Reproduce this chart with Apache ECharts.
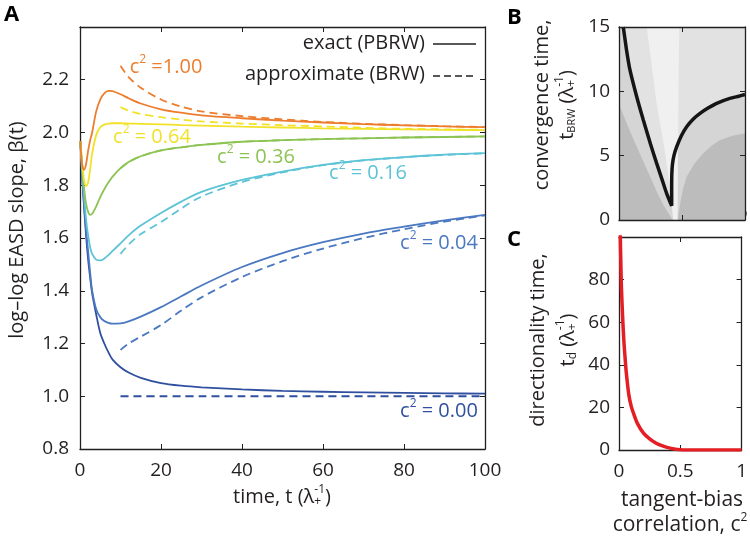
<!DOCTYPE html>
<html><head><meta charset="utf-8">
<script src="https://cdn.jsdelivr.net/npm/echarts@6/dist/echarts.min.js"></script>
<style>html,body{margin:0;padding:0;background:#fff}#c{width:750px;height:540px}</style>
</head><body><div id="c"></div>
<script>
// ---------- Panel A data ----------
const T_EXACT = [0.1,0.5,1,1.5,2,2.5,3,4,5,6,7,8,10,12,15,20,25,30,40,50,60,70,80,90,100];
const EXACT_100 = [1.967,1.88,1.858,1.88,1.93,1.97,2.00,2.08,2.125,2.148,2.158,2.157,2.145,2.13,2.11,2.088,2.075,2.065,2.054,2.045,2.038,2.032,2.027,2.023,2.02];
const EXACT_064 = [1.967,1.89,1.82,1.797,1.81,1.86,1.92,1.99,2.02,2.03,2.034,2.035,2.035,2.034,2.033,2.031,2.028,2.026,2.022,2.019,2.016,2.014,2.012,2.010,2.009];
const EXACT_036 = [1.967,1.88,1.79,1.73,1.70,1.688,1.692,1.72,1.755,1.785,1.81,1.832,1.865,1.888,1.91,1.932,1.944,1.953,1.965,1.971,1.975,1.978,1.981,1.983,1.985];
const EXACT_016 = [1.967,1.86,1.76,1.67,1.61,1.565,1.54,1.518,1.515,1.522,1.535,1.55,1.58,1.61,1.647,1.695,1.738,1.775,1.82,1.852,1.877,1.895,1.907,1.916,1.922];
const EXACT_004 = [1.967,1.85,1.73,1.63,1.55,1.47,1.40,1.33,1.30,1.285,1.278,1.275,1.276,1.284,1.302,1.338,1.379,1.42,1.49,1.543,1.584,1.617,1.643,1.667,1.688];
const EXACT_000 = [1.967,1.84,1.72,1.61,1.52,1.45,1.39,1.31,1.24,1.20,1.167,1.14,1.11,1.09,1.07,1.05,1.04,1.034,1.026,1.02,1.017,1.015,1.013,1.011,1.01];
const T_APPROX = [10,12,15,20,25,30,40,50,60,70,80,90,100];
const APPROX_100 = [2.253,2.21,2.17,2.125,2.098,2.08,2.062,2.05,2.04,2.033,2.028,2.024,2.021];
const APPROX_064 = [2.096,2.083,2.07,2.058,2.049,2.042,2.034,2.028,2.023,2.018,2.014,2.012,2.01];
const APPROX_036 = [1.864,1.888,1.91,1.932,1.944,1.953,1.965,1.971,1.975,1.978,1.981,1.983,1.985];
const APPROX_016 = [1.54,1.575,1.615,1.66,1.712,1.757,1.812,1.849,1.876,1.894,1.906,1.915,1.921];
const APPROX_004 = [1.176,1.20,1.226,1.27,1.325,1.375,1.452,1.512,1.56,1.60,1.633,1.662,1.686];
const APPROX_000 = [1,1,1,1,1,1,1,1,1,1,1,1,1];
const C2_LABELS = ['1.00','0.64','0.36','0.16','0.04','0.00'];
const COLORS = ['#ED7D2E','#F1E229','#8DC353','#5DC3D6','#4A78C1','#30509F'];

// ---------- Panel B data (contour regions, c^2 vs t_BRW) ----------
const B_LINE_X = [0.034,0.06,0.087,0.14,0.193,0.25,0.299,0.34,0.378,0.418,0.418,0.419,0.424,0.436,0.458,0.495,0.537,0.59,0.643,0.71,0.775,0.88,0.95,1.0];
const B_LINE_Y = [15,13.2,11.66,9.6,7.77,5.9,4.4,3.2,2.07,1.1,2.5,3.5,4.3,5.0,5.7,6.55,7.25,7.85,8.29,8.72,9.07,9.45,9.62,9.75];
const B_WEDGE_X = [0.22,0.3,0.37,0.41,0.43,0.465,0.468,0.472,0.478];
const B_WEDGE_Y = [15,9,5,2,0,0,5,10,15];
const B_DARKL_X = [0,0,0.05,0.1,0.15,0.2,0.25,0.3,0.35,0.4,0.425];
const B_DARKL_Y = [0,9.0,7.8,6.6,5.5,4.4,3.3,2.2,1.2,0.4,0];
const B_DARKR_X = [0.465,0.49,0.51,0.537,0.6,0.669,0.74,0.8,0.9,1,1];
const B_DARKR_Y = [0,1.5,2.5,3.37,4.4,5.18,5.8,6.2,6.55,6.75,0];
const B_LABELS = ['<1%','<5%','<10%','>10%'];

// ---------- Panel C data ----------
const C_X = [0.004,0.01,0.015,0.02,0.03,0.04,0.05,0.06,0.08,0.1,0.12,0.15,0.2,0.25,0.3,0.35,0.4,0.45,0.5,0.55,0.6,0.8,1.0];
const C_TD = [140,103,88,76,62,51,43,36,26,20.5,17,12.5,7.9,5.2,3.3,2.0,1.1,0.45,0.1,0,0,0,0];

const FONT = '"Open Sans", "DejaVu Sans", sans-serif';
const AX = '#231F20';
const TICKF = 19, TITLEF = 20;
const zip = (xs, ys) => xs.map((x, i) => [x, ys[i]]);

const mctx = document.createElement('canvas').getContext('2d');
function tw(t, s, bold) { mctx.font = (bold ? 'bold ' : '') + s + 'px "Open Sans"'; return mctx.measureText(t).width; }
function textGroup(cx, cy, rot, lines, color, anchor, bold) {
  const children = [];
  lines.forEach(line => {
    let x = 0, prevX = 0; const items = [];
    line.parts.forEach(p => {
      const [t, s, dy, stack] = p; const w = tw(t, s, bold);
      let px; if (stack) { px = prevX; x = Math.max(x, prevX + w); } else { px = x; x += w; }
      items.push({t, s, dy, px}); prevX = px;
    });
    const x0 = anchor === 'right' ? -x : anchor === 'left' ? 0 : -x / 2;
    items.forEach(it => children.push({type: 'text', x: x0 + it.px, y: (line.dy || 0) + it.dy,
      style: {text: it.t, fontSize: it.s, fontFamily: FONT, fontWeight: bold ? 'bold' : 'normal', fill: color, align: 'left', verticalAlign: 'middle'}}));
  });
  return {type: 'group', x: cx, y: cy, rotation: rot || 0, children, silent: true};
}

function mkX(grid, min, max, interval, pos, labels, z) {
  return {gridIndex: grid, type: 'value', min, max, interval, position: pos, z: z || 0,
    axisLine: {show: true, onZero: false, lineStyle: {color: AX, width: 1.3}},
    axisTick: {show: true, inside: true, length: 5, lineStyle: {color: AX, width: 1}},
    axisLabel: labels ? Object.assign({fontSize: TICKF, fontFamily: FONT, color: AX, margin: 12}, labels) : {show: false},
    splitLine: {show: false}};
}

const seriesList = [];
const exacts = [EXACT_100, EXACT_064, EXACT_036, EXACT_016, EXACT_004, EXACT_000];
const approx = [APPROX_100, APPROX_064, APPROX_036, APPROX_016, APPROX_004, APPROX_000];
exacts.forEach((ys, i) => seriesList.push({type: 'line', xAxisIndex: 0, yAxisIndex: 0, data: zip(T_EXACT, ys),
  showSymbol: false, smooth: 0.3, lineStyle: {color: COLORS[i], width: 1.8}, silent: true, z: 3 + (5 - i)}));
approx.forEach((ys, i) => seriesList.push({type: 'line', xAxisIndex: 0, yAxisIndex: 0, data: zip(T_APPROX, ys),
  showSymbol: false, smooth: 0.3, lineStyle: {color: COLORS[i], width: 1.8, type: [8, 5]}, silent: true, z: 3}));

function poly(xs, ys, fill, z) {
  const pts = zip(xs, ys);
  return {type: 'custom', xAxisIndex: 2, yAxisIndex: 2, data: [[0.5, 7]], silent: true, z,
    renderItem: (params, api) => ({type: 'polygon', shape: {points: pts.map(p => api.coord(p))}, style: {fill}})};
}
seriesList.push(poly([0,1,1,0], [0,0,15,15], '#D5D5D5', 1));
seriesList.push(poly(B_LINE_X.concat([1, 0.034]), B_LINE_Y.concat([15, 15]), '#E2E2E2', 1));
seriesList.push(poly(B_DARKL_X, B_DARKL_Y, '#BCBCBC', 1));
seriesList.push(poly(B_DARKR_X, B_DARKR_Y, '#BCBCBC', 1));
seriesList.push(poly(B_WEDGE_X, B_WEDGE_Y, '#F0F0F0', 1));
seriesList.push({type: 'line', xAxisIndex: 2, yAxisIndex: 2, data: zip(B_LINE_X, B_LINE_Y), showSymbol: false,
  smooth: 0.2, lineStyle: {color: '#151515', width: 3.5}, silent: true, z: 5});
seriesList.push({type: 'line', xAxisIndex: 4, yAxisIndex: 4, data: zip(C_X, C_TD), showSymbol: false,
  smooth: 0.3, lineStyle: {color: '#E31E24', width: 3.5}, silent: true, z: 5});

const option = {
  animation: false, backgroundColor: '#fff',
  grid: [
    {left: 80, top: 27, width: 405, height: 422},
    {left: 619, top: 27, width: 126, height: 193},
    {left: 619, top: 237, width: 126, height: 213}
  ],
  xAxis: [
    mkX(0, 0, 100, 20, 'bottom', {}),
    mkX(0, 0, 100, 20, 'top', null),
    mkX(1, 0, 1, 0.5, 'bottom', null, 10),
    mkX(1, 0, 1, 0.5, 'top', null, 10),
    mkX(2, 0, 1, 0.5, 'bottom', {formatter: v => v === 0.5 ? '0.5' : String(Math.round(v))}),
    mkX(2, 0, 1, 0.5, 'top', null)
  ],
  yAxis: [
    mkX(0, 0.8, 2.4, 0.2, 'left', {formatter: v => v > 2.3 ? '' : v.toFixed(1), margin: 11}),
    mkX(0, 0.8, 2.4, 0.2, 'right', null),
    mkX(1, 0, 15, 5, 'left', {margin: 9}, 10),
    mkX(1, 0, 15, 5, 'right', null, 10),
    mkX(2, 0, 100, 20, 'left', {formatter: v => v > 90 ? '' : String(v), margin: 9}),
    mkX(2, 0, 100, 20, 'right', null)
  ],
  series: seriesList
};

const chart = echarts.init(document.getElementById('c'), null, {renderer: 'canvas'});
chart.setOption(option);

const PI2 = Math.PI / 2;
const labelPos = [[166, 67], [152, 137], [256, 157], [368, 173], [439, 243], [439, 411]];
const g = [];
C2_LABELS.forEach((lab, i) => {
  const eq = i === 0 ? ' =' + lab : ' = ' + lab;
  g.push(textGroup(labelPos[i][0], labelPos[i][1], 0, [{parts: [['c', 20, 0], ['2', 12, -7], [eq, 20, 0]]}], COLORS[i]));
});
// legend
g.push(textGroup(425, 43, 0, [{parts: [['exact (PBRW)', TITLEF, 0]]}], AX, 'right'));
g.push(textGroup(425, 74, 0, [{parts: [['approximate (BRW)', TITLEF, 0]]}], AX, 'right'));
g.push({type: 'line', shape: {x1: 433, y1: 44, x2: 476, y2: 44}, style: {stroke: AX, lineWidth: 1.5}, silent: true});
g.push({type: 'line', shape: {x1: 433, y1: 76, x2: 476, y2: 76}, style: {stroke: AX, lineWidth: 1.5, lineDash: [7, 4]}, silent: true});
// panel letters
g.push(textGroup(4, 15, 0, [{parts: [['A', 22, 0]]}], '#000', 'left', true));
g.push(textGroup(507, 18, 0, [{parts: [['B', 22, 0]]}], '#000', 'left', true));
g.push(textGroup(507, 240, 0, [{parts: [['C', 22, 0]]}], '#000', 'left', true));
// axis titles
g.push(textGroup(282, 497, 0, [{parts: [['time, t (λ', TITLEF, 0], ['-1', 12, -7], ['+', 12, 5, true], [')', TITLEF, 0]]}], AX));
g.push(textGroup(17, 230, PI2, [{parts: [['log–log EASD slope, β(t)', TITLEF, 0]]}], AX));
g.push(textGroup(554, 105, PI2, [
  {dy: -12, parts: [['convergence time,', TITLEF, 0]]},
  {dy: 13, parts: [['t', TITLEF, 0], ['BRW', 11, 5], [' (λ', TITLEF, 0], ['-1', 12, -7], ['+', 12, 5, true], [')', TITLEF, 0]]}
], AX));
g.push(textGroup(553, 340, PI2, [
  {dy: -15, parts: [['directionality time,', TITLEF, 0]]},
  {dy: 15, parts: [['t', TITLEF, 0], ['d', 12, 5], [' (λ', TITLEF, 0], ['-1', 12, -7], ['+', 12, 5, true], [')', TITLEF, 0]]}
], AX));
g.push(textGroup(682, 500, 0, [{parts: [['tangent-bias', 21, 0]]}], AX));
g.push(textGroup(680, 525, 0, [{parts: [['correlation, c', 21, 0], ['2', 12, -7]]}], AX));
// panel B region labels
const bLabelPos = [[664, 40], [726, 86], [721, 122], [726, 212]];
B_LABELS.forEach((t, i) => g.push(textGroup(bLabelPos[i][0], bLabelPos[i][1], 0, [{parts: [[t, 17, 0]]}], AX)));

chart.setOption({graphic: {elements: g}});
</script></body></html>
